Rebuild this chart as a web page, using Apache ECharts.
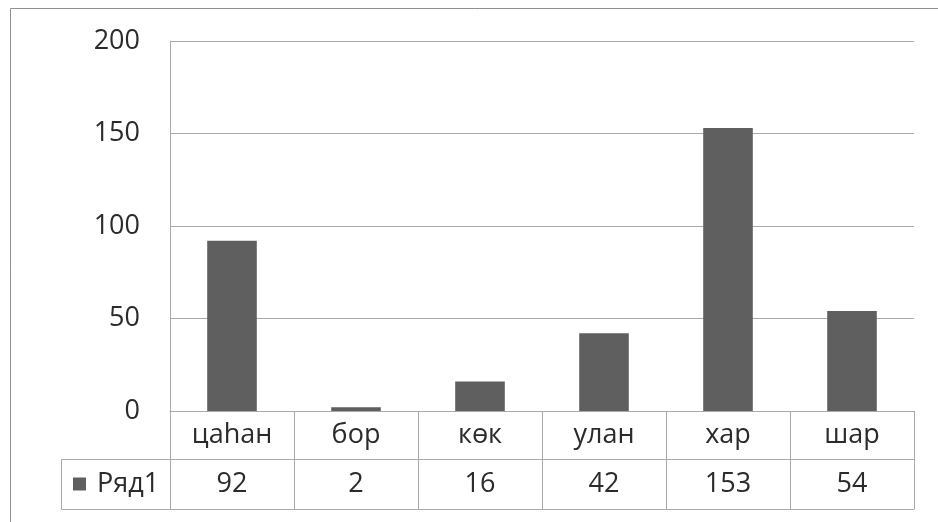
<!DOCTYPE html>
<html>
<head>
<meta charset="utf-8">
<script src="https://cdn.jsdelivr.net/npm/echarts@6/dist/echarts.min.js"></script>
<style>
  html, body { margin: 0; padding: 0; background: #fff; }
  #chart { width: 938px; height: 522px; }
</style>
</head>
<body>
<div id="chart"></div>
<script>
// Colour names and their counts
const categories = ['цаһан', 'бор', 'көк', 'улан', 'хар', 'шар'];
const seriesName = 'Ряд1';
const values = [92, 2, 16, 42, 153, 54];
const yTicks = [0, 50, 100, 150, 200];

const FONT = '"Open Sans", "Noto Sans", sans-serif';
const TEXT = '#2b2b2b';
const LINE = '#a9a9a9';
const BORDER = '#8f8f8f';
const BAR = '#5f5f5f';

const chart = echarts.init(document.getElementById('chart'), null, { renderer: 'canvas' });

const gridLeft = 170, gridTop = 41, gridRight = 24, gridBottom = 111;
const rowH = 48; // height of one data-table row

chart.setOption({
  animation: false,
  backgroundColor: '#fff',
  grid: { left: gridLeft, right: gridRight, top: gridTop, bottom: gridBottom, containLabel: false },
  legend: {
    data: [seriesName],
    left: 73,
    top: 469,
    padding: 0,
    icon: 'rect',
    itemWidth: 13,
    itemHeight: 13,
    textStyle: { fontFamily: FONT, fontSize: 27, color: TEXT, lineHeight: 30, padding: [0, 0, 0, 6] }
  },
  xAxis: [
    {
      // category row of the data table
      type: 'category',
      data: categories,
      position: 'bottom',
      axisLine: { show: true, lineStyle: { color: LINE, width: 1 } },
      axisTick: { show: true, interval: 0, length: rowH * 2 + 2, lineStyle: { color: LINE, width: 1 } },
      axisLabel: { interval: 0, margin: 24, verticalAlign: 'middle', fontFamily: FONT, fontSize: 27, color: TEXT }
    },
    {
      // value row of the data table
      type: 'category',
      data: values.map(String),
      position: 'bottom',
      offset: rowH,
      axisLine: { show: true, lineStyle: { color: LINE, width: 1 } },
      axisTick: { show: false },
      axisLabel: { interval: 0, margin: 25, verticalAlign: 'middle', fontFamily: FONT, fontSize: 27, color: TEXT }
    },
    {
      // bottom edge of the data table
      type: 'category',
      data: categories,
      position: 'bottom',
      offset: rowH * 2 + 2,
      axisLine: { show: true, lineStyle: { color: LINE, width: 1 } },
      axisTick: { show: false },
      axisLabel: { show: false }
    }
  ],
  yAxis: {
    type: 'value',
    min: yTicks[0],
    max: yTicks[yTicks.length - 1],
    interval: yTicks[1] - yTicks[0],
    axisLine: { show: true, lineStyle: { color: LINE, width: 1 } },
    axisTick: { show: false },
    splitLine: { show: true, lineStyle: { color: LINE, width: 1 } },
    axisLabel: { margin: 30, fontFamily: FONT, fontSize: 27, color: TEXT }
  },
  series: [{
    name: seriesName,
    type: 'bar',
    data: values,
    xAxisIndex: 0,
    barWidth: '40%',
    itemStyle: { color: BAR }
  }],
  graphic: [
    // outer frame of the chart
    { type: 'rect', left: 8, top: 6, shape: { x: 0.5, y: 0.5, width: 960, height: 560 },
      style: { fill: null, stroke: BORDER, lineWidth: 1 }, silent: true, z: -1 },
    // legend cell of the data table
    { type: 'polyline', shape: { points: [[170, 459.5], [61.5, 459.5], [61.5, 509.5], [170, 509.5]] },
      style: { fill: null, stroke: LINE, lineWidth: 1 }, silent: true }
  ]
});
</script>
</body>
</html>
